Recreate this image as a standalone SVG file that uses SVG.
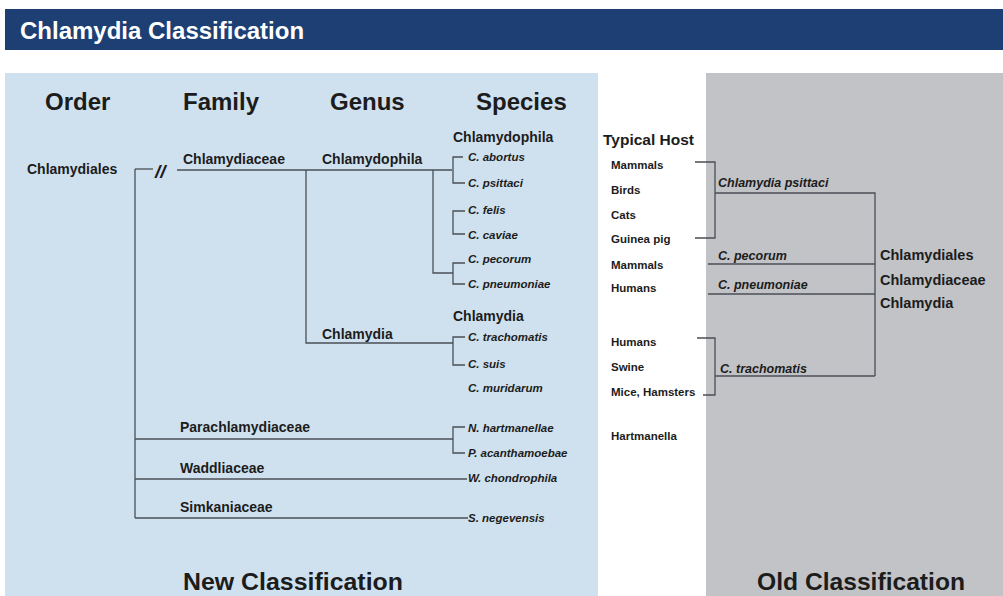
<svg xmlns="http://www.w3.org/2000/svg" width="1003" height="596" viewBox="0 0 1003 596">
<style>
text{font-family:"Liberation Sans",Arial,sans-serif;font-weight:bold;fill:#1c1c1c}
.title{fill:#fff;font-size:24px}
.hdr{font-size:24px}
.foot{font-size:24px}
.tax{font-size:14px}
.sp{font-size:11.5px;font-style:italic}
.host{font-size:11.5px}
.old{font-size:12.5px;font-style:italic}
.rt{font-size:14.5px}
.ln{fill:none;stroke:#4a4f56;stroke-width:1.3}
</style>
<rect x="0" y="0" width="1003" height="596" fill="#ffffff"/>
<rect x="5" y="9" width="998" height="41" fill="#1d3f73"/>
<text class="title" x="20" y="39">Chlamydia Classification</text>
<rect x="5" y="73" width="593" height="523" fill="#cfe1ee"/>
<rect x="706" y="73" width="297" height="523" fill="#c1c3c6"/>

<g id="headers">
<text class="hdr" x="45" y="110">Order</text>
<text class="hdr" x="183" y="110">Family</text>
<text class="hdr" x="330" y="110">Genus</text>
<text class="hdr" x="476" y="110">Species</text>
</g>

<g id="connectors">
<path class="ln" d="M135,169 H153"/>
<path class="ln" d="M177,170 H452"/>
<path class="ln" d="M135,169 V518"/>
<path class="ln" d="M135,439 H453"/>
<path class="ln" d="M135,479 H467"/>
<path class="ln" d="M135,518 H468"/>
<path class="ln" d="M306,170 V343 H453"/>
<path class="ln" d="M433,170 V273 H453"/>
<path class="ln" d="M463,157 H453 V183 H465"/>
<path class="ln" d="M465,211 H453 V234 H465"/>
<path class="ln" d="M465,263 H453 V284 H465"/>
<path class="ln" d="M465,337 H453 V365 H465"/>
<path class="ln" d="M465,427 H453 V453 H465"/>
<path class="ln" d="M695,162 H715 V238 H695"/>
<path class="ln" d="M715,193 H875 V376"/>
<path class="ln" d="M708,264 H875"/>
<path class="ln" d="M708,294 H875"/>
<path class="ln" d="M697,338 H715 V395 H703"/>
<path class="ln" d="M715,376 H875"/>
</g>

<g id="order"><text class="tax" x="27" y="174">Chlamydiales</text>
<text x="155" y="178" style="font-size:19px;font-style:italic">//</text></g>

<g id="family-chlamydiaceae"><text class="tax" x="183" y="164">Chlamydiaceae</text></g>
<g id="family-parachlamydiaceae"><text class="tax" x="180" y="432">Parachlamydiaceae</text></g>
<g id="family-waddliaceae"><text class="tax" x="180" y="473">Waddliaceae</text></g>
<g id="family-simkaniaceae"><text class="tax" x="180" y="512">Simkaniaceae</text></g>

<g id="genus-chlamydophila"><text class="tax" x="322" y="164">Chlamydophila</text></g>
<g id="genus-chlamydia"><text class="tax" x="322" y="339">Chlamydia</text></g>

<g id="species-chlamydophila">
<text class="tax" x="453" y="142">Chlamydophila</text>
<text class="sp" x="468" y="161">C. abortus</text>
<text class="sp" x="468" y="187">C. psittaci</text>
<text class="sp" x="468" y="214">C. felis</text>
<text class="sp" x="468" y="239">C. caviae</text>
<text class="sp" x="468" y="263">C. pecorum</text>
<text class="sp" x="468" y="288">C. pneumoniae</text>
</g>
<g id="species-chlamydia">
<text class="tax" x="453" y="321">Chlamydia</text>
<text class="sp" x="468" y="341">C. trachomatis</text>
<text class="sp" x="468" y="368">C. suis</text>
<text class="sp" x="468" y="392">C. muridarum</text>
</g>
<g id="species-other">
<text class="sp" x="468" y="432">N. hartmanellae</text>
<text class="sp" x="468" y="457">P. acanthamoebae</text>
<text class="sp" x="468" y="482">W. chondrophila</text>
<text class="sp" x="468" y="522">S. negevensis</text>
</g>

<g id="hosts">
<text x="603" y="145" style="font-size:15.5px">Typical Host</text>
<text class="host" x="611" y="169">Mammals</text>
<text class="host" x="611" y="194">Birds</text>
<text class="host" x="611" y="219">Cats</text>
<text class="host" x="611" y="243">Guinea pig</text>
<text class="host" x="611" y="269">Mammals</text>
<text class="host" x="611" y="292">Humans</text>
<text class="host" x="611" y="346">Humans</text>
<text class="host" x="611" y="371">Swine</text>
<text class="host" x="611" y="396">Mice, Hamsters</text>
<text class="host" x="611" y="440">Hartmanella</text>
</g>

<g id="old-species">
<text class="old" x="718" y="187">Chlamydia psittaci</text>
<text class="old" x="718" y="260">C. pecorum</text>
<text class="old" x="718" y="289">C. pneumoniae</text>
<text class="old" x="720" y="373">C. trachomatis</text>
</g>
<g id="old-taxon">
<text class="rt" x="880" y="260">Chlamydiales</text>
<text class="rt" x="880" y="285">Chlamydiaceae</text>
<text class="rt" x="880" y="308">Chlamydia</text>
</g>

<g id="footers">
<text class="foot" x="293" y="590" text-anchor="middle" textLength="220" lengthAdjust="spacingAndGlyphs">New Classification</text>
<text class="foot" x="861" y="590" text-anchor="middle" textLength="208" lengthAdjust="spacingAndGlyphs">Old Classification</text>
</g>
</svg>
